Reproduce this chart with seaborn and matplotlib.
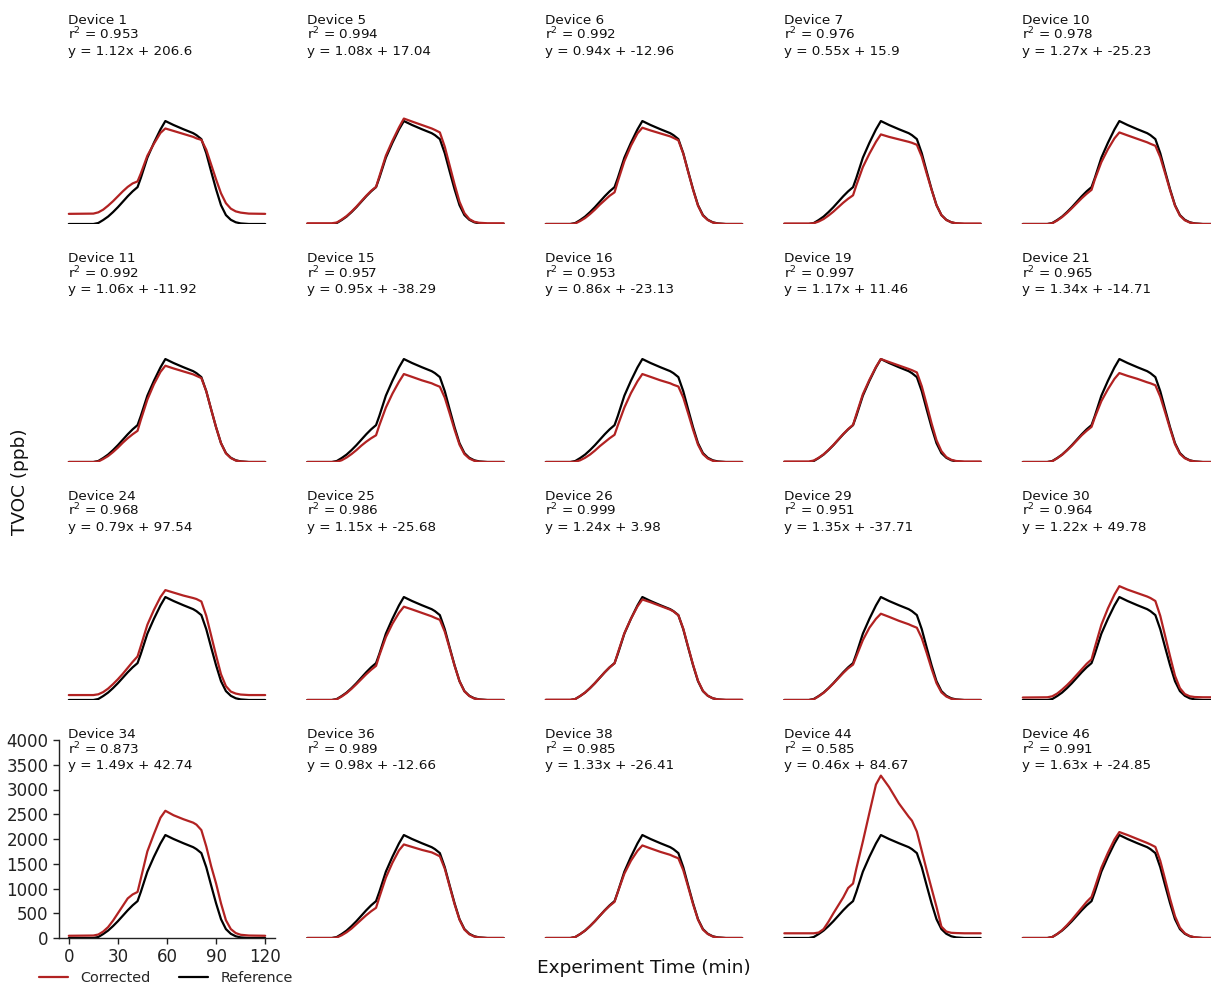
import matplotlib
matplotlib.use("Agg")
import matplotlib.pyplot as plt
import seaborn as sns
import pandas as pd
from matplotlib.lines import Line2D

# ---------------- data ----------------
times = [0, 15, 18, 21, 24, 27, 30, 33, 36, 39,
         42, 44, 48, 52, 56, 59, 64, 70, 76, 78,
         81, 84, 87, 90, 93, 96, 99, 102, 105, 110, 120]

reference = [0, 0, 20, 80, 150, 240, 340, 450, 560, 660,
             745, 930, 1340, 1640, 1910, 2080, 2000, 1915, 1835, 1795,
             1715, 1430, 1060, 700, 380, 180, 85, 35, 12, 0, 0]

devices = ["Device 1", "Device 5", "Device 6", "Device 7", "Device 10",
           "Device 11", "Device 15", "Device 16", "Device 19", "Device 21",
           "Device 24", "Device 25", "Device 26", "Device 29", "Device 30",
           "Device 34", "Device 36", "Device 38", "Device 44", "Device 46"]

r2_values = [0.953, 0.994, 0.992, 0.976, 0.978,
             0.992, 0.957, 0.953, 0.997, 0.965,
             0.968, 0.986, 0.999, 0.951, 0.964,
             0.873, 0.989, 0.985, 0.585, 0.991]

slopes = [1.12, 1.08, 0.94, 0.55, 1.27,
          1.06, 0.95, 0.86, 1.17, 1.34,
          0.79, 1.15, 1.24, 1.35, 1.22,
          1.49, 0.98, 1.33, 0.46, 1.63]

intercepts = [206.6, 17.04, -12.96, 15.9, -25.23,
              -11.92, -38.29, -23.13, 11.46, -14.71,
              97.54, -25.68, 3.98, -37.71, 49.78,
              42.74, -12.66, -26.41, 84.67, -24.85]

corr_d1 = [205, 210, 235, 290, 370, 460, 560, 660, 750, 820,
           860, 1020, 1380, 1620, 1840, 1930, 1880, 1820, 1760, 1730,
           1700, 1500, 1200, 900, 620, 420, 310, 255, 230, 210, 205]
corr_d5 = [15, 15, 30, 90, 160, 250, 350, 460, 570, 670,
           750, 960, 1380, 1680, 1950, 2130, 2070, 2000, 1930, 1900,
           1850, 1560, 1180, 800, 450, 220, 100, 45, 25, 15, 15]
corr_d6 = [0, 0, 10, 60, 120, 200, 290, 390, 480, 570,
           640, 860, 1270, 1580, 1830, 1945, 1890, 1830, 1770, 1740,
           1690, 1420, 1050, 690, 370, 170, 80, 30, 10, 0, 0]
corr_d7 = [10, 10, 15, 50, 100, 170, 250, 340, 430, 510,
           580, 780, 1150, 1420, 1660, 1810, 1760, 1710, 1660, 1640,
           1600, 1360, 1020, 690, 380, 180, 80, 35, 15, 10, 10]
corr_d10 = [0, 0, 15, 70, 140, 225, 320, 420, 520, 610,
            690, 900, 1250, 1510, 1730, 1850, 1790, 1720, 1650, 1620,
            1580, 1350, 1020, 680, 370, 170, 75, 30, 10, 0, 0]
corr_d11 = [0, 0, 10, 60, 120, 200, 290, 390, 480, 560,
            630, 850, 1260, 1570, 1820, 1945, 1890, 1830, 1770, 1740,
            1695, 1430, 1060, 700, 380, 175, 80, 30, 10, 0, 0]
corr_d15 = [0, 0, 5, 35, 90, 160, 240, 330, 410, 480,
            540, 740, 1100, 1380, 1620, 1777, 1720, 1650, 1590, 1560,
            1520, 1300, 980, 650, 350, 160, 70, 25, 5, 0, 0]
corr_d16 = [0, 0, 5, 35, 85, 150, 230, 320, 400, 480,
            550, 740, 1100, 1390, 1630, 1777, 1720, 1650, 1590, 1560,
            1525, 1300, 980, 650, 350, 160, 70, 25, 5, 0, 0]
corr_d19 = [10, 10, 30, 85, 155, 245, 345, 455, 565, 665,
            750, 960, 1370, 1660, 1920, 2080, 2020, 1950, 1880, 1855,
            1810, 1530, 1160, 780, 440, 220, 100, 45, 20, 10, 10]
corr_d21 = [0, 0, 15, 75, 145, 235, 330, 435, 540, 630,
            710, 900, 1230, 1470, 1680, 1797, 1740, 1680, 1610, 1590,
            1550, 1320, 1000, 670, 360, 165, 75, 30, 10, 0, 0]
corr_d24 = [100, 100, 115, 160, 230, 320, 420, 530, 650, 770,
            880, 1090, 1520, 1820, 2080, 2220, 2170, 2110, 2060, 2040,
            1990, 1700, 1300, 900, 520, 280, 170, 130, 110, 100, 100]
corr_d25 = [0, 0, 15, 70, 140, 225, 320, 420, 520, 610,
            690, 900, 1270, 1540, 1760, 1885, 1830, 1760, 1690, 1660,
            1620, 1380, 1040, 690, 380, 175, 80, 30, 10, 0, 0]
corr_d26 = [5, 5, 20, 80, 150, 240, 340, 450, 560, 660,
            740, 950, 1350, 1640, 1890, 2030, 1975, 1900, 1825, 1790,
            1710, 1440, 1070, 710, 390, 185, 85, 35, 12, 5, 5]
corr_d29 = [0, 0, 15, 75, 145, 235, 335, 440, 545, 640,
            715, 880, 1210, 1460, 1640, 1743, 1680, 1600, 1530, 1500,
            1460, 1250, 950, 630, 340, 155, 70, 25, 8, 0, 0]
corr_d30 = [50, 55, 75, 130, 210, 300, 400, 510, 620, 730,
            820, 1060, 1520, 1850, 2130, 2300, 2230, 2160, 2090, 2060,
            2000, 1700, 1290, 880, 490, 240, 120, 75, 60, 55, 55]
corr_d34 = [45, 50, 70, 130, 220, 350, 500, 650, 800, 880,
            930, 1200, 1750, 2100, 2430, 2570, 2480, 2400, 2330, 2290,
            2180, 1850, 1450, 1100, 700, 360, 180, 100, 65, 50, 45]
corr_d36 = [0, 0, 10, 55, 115, 190, 280, 370, 460, 540,
            610, 820, 1220, 1520, 1770, 1890, 1840, 1780, 1730, 1700,
            1650, 1400, 1040, 680, 370, 170, 75, 30, 10, 0, 0]
corr_d38 = [0, 0, 20, 80, 150, 240, 340, 450, 555, 650,
            730, 930, 1300, 1560, 1760, 1870, 1810, 1740, 1680, 1650,
            1610, 1370, 1030, 680, 370, 170, 80, 30, 10, 0, 0]
corr_d44 = [95, 95, 95, 110, 180, 330, 500, 660, 820, 1010,
            1100, 1400, 1950, 2530, 3100, 3280, 3050, 2720, 2450, 2370,
            2150, 1760, 1370, 1000, 630, 230, 130, 105, 100, 95, 95]
corr_d46 = [0, 0, 20, 80, 160, 260, 370, 490, 610, 730,
            830, 1020, 1420, 1720, 1990, 2140, 2080, 2000, 1920, 1890,
            1840, 1560, 1180, 790, 440, 210, 95, 40, 15, 0, 0]

corrected = [corr_d1, corr_d5, corr_d6, corr_d7, corr_d10,
             corr_d11, corr_d15, corr_d16, corr_d19, corr_d21,
             corr_d24, corr_d25, corr_d26, corr_d29, corr_d30,
             corr_d34, corr_d36, corr_d38, corr_d44, corr_d46]

x_ticks = [0, 30, 60, 90, 120]
y_ticks = [0, 500, 1000, 1500, 2000, 2500, 3000, 3500, 4000]

# ---------------- style ----------------
sns.set_theme(style="ticks")
plt.rcParams['font.family'] = ['DejaVu Sans']
RED = "#b22222"
BLACK = "#000000"

W, H = 1211, 983
fig = plt.figure(figsize=(W / 100, H / 100), dpi=100)

col_left = [59, 297.5, 536, 774.5, 1013]
row_top = [26, 264, 502, 740]
ax_w, ax_h = 216, 198

for i, dev in enumerate(devices):
    r, c = divmod(i, 5)
    rect = [col_left[c] / W, 1 - (row_top[r] + ax_h) / H, ax_w / W, ax_h / H]
    ax = fig.add_axes(rect)
    df = pd.DataFrame({"time": times + times,
                       "value": corrected[i] + reference,
                       "series": ["Corrected"] * len(times) + ["Reference"] * len(times)})
    sns.lineplot(data=df, x="time", y="value", hue="series",
                 palette={"Corrected": RED, "Reference": BLACK},
                 hue_order=["Reference", "Corrected"],
                 linewidth=1.6, legend=False, ax=ax, estimator=None, sort=False)
    ax.set_xlim(-6, 126)
    ax.set_ylim(0, 4000)
    ax.set_xlabel("")
    ax.set_ylabel("")
    lines = [dev, f"r$^2$ = {r2_values[i]}", f"y = {slopes[i]}x + {intercepts[i]}"]
    for k, line in enumerate(lines):
        y_px = 1.7 - 15.5 * k
        ax.text(0.042, 1 + y_px / ax_h, line, transform=ax.transAxes,
                va="baseline", ha="left", fontsize=9.7, color="#111111")
    if r == 3 and c == 0:
        sns.despine(ax=ax)
        ax.set_xticks(x_ticks)
        ax.set_yticks(y_ticks)
        ax.tick_params(labelsize=12, length=4, width=1, colors="#222222")
        for s in ["left", "bottom"]:
            ax.spines[s].set_color("#222222")
            ax.spines[s].set_linewidth(1)
    else:
        ax.axis("off")

fig.text(644 / W, 1 - 968 / H, "Experiment Time (min)", ha="center", va="center",
         fontsize=13.3, color="#111111")
fig.text(20 / W, 1 - 482 / H, "TVOC (ppb)", ha="center", va="center",
         rotation=90, fontsize=13.3, color="#111111")

handles = [Line2D([], [], color=RED, lw=1.6), Line2D([], [], color=BLACK, lw=1.6)]
fig.legend(handles, ["Corrected", "Reference"], loc="center left",
           bbox_to_anchor=(33 / W, 1 - 978 / H), ncol=2, frameon=False,
           fontsize=10.4, handlelength=2.0, handletextpad=0.85, columnspacing=2.0,
           borderaxespad=0.0)

fig.savefig("out.png", dpi=100)
